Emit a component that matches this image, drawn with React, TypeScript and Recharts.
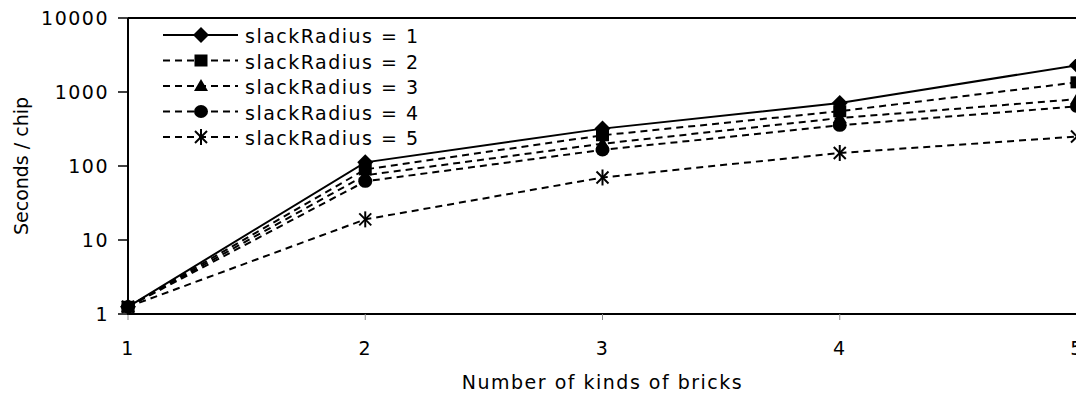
import { LineChart, Line, XAxis, YAxis, Legend, ReferenceLine, Label } from "recharts"

// kinds of bricks on the x axis
const bricks = [1, 2, 3, 4, 5]

// seconds per chip for each slack radius
const radius1 = [1.25, 112, 320, 710, 2300]
const radius2 = [1.25, 90, 260, 550, 1350]
const radius3 = [1.25, 75, 200, 445, 800]
const radius4 = [1.25, 62, 165, 355, 640]
const radius5 = [1.25, 19, 70, 150, 250]

const seriesNames = [
  "slackRadius = 1",
  "slackRadius = 2",
  "slackRadius = 3",
  "slackRadius = 4",
  "slackRadius = 5",
]
const seriesKeys = ["r1", "r2", "r3", "r4", "r5"]
const seriesShapes = ["diamond", "square", "triangle", "circle", "star"]

const xTicks = [1, 2, 3, 4, 5]
const yTicks = [1, 10, 100, 1000, 10000]

const seriesValues = [radius1, radius2, radius3, radius4, radius5]
const data = bricks.map((b, i) => {
  const row: any = { bricks: b }
  seriesKeys.forEach((k, s) => (row[k] = seriesValues[s][i]))
  return row
})

const FONT = "DejaVu Sans"
const DASH = "7 5"

function Marker({ shape, cx, cy }: any) {
  if (cx == null || cy == null) return null
  switch (shape) {
    case "diamond":
      return <polygon points={`${cx},${cy - 8} ${cx + 8},${cy} ${cx},${cy + 8} ${cx - 8},${cy}`} fill="#000" />
    case "square":
      return <rect x={cx - 6.5} y={cy - 6} width={13} height={12} fill="#000" />
    case "triangle":
      return <polygon points={`${cx},${cy - 7} ${cx + 7},${cy + 5} ${cx - 7},${cy + 5}`} fill="#000" />
    case "circle":
      return <ellipse cx={cx} cy={cy} rx={7} ry={6.5} fill="#000" />
    default:
      return (
        <g stroke="#000" strokeWidth={2}>
          <line x1={cx - 6} y1={cy - 6} x2={cx + 6} y2={cy + 6} />
          <line x1={cx - 6} y1={cy + 6} x2={cx + 6} y2={cy - 6} />
          <line x1={cx} y1={cy - 8} x2={cx} y2={cy + 8} />
        </g>
      )
  }
}

function LegendBox({ payload }: any) {
  return (
    <svg width={520} height={160} style={{ display: "block", overflow: "visible" }}>
      {(payload ?? []).map((entry: any) => {
        const i = seriesKeys.indexOf(entry.dataKey)
        const y = 35 + i * 25.5
        return (
          <g key={entry.dataKey}>
            <line x1={163} x2={238} y1={y} y2={y} stroke="#000" strokeWidth={2}
              strokeDasharray={i === 0 ? undefined : DASH} />
            <Marker shape={seriesShapes[i]} cx={201} cy={y} />
            <text x={245} y={y + 8} fontSize={19} fontFamily={FONT} fill="#000" letterSpacing={1.5}>
              {seriesNames[i]}
            </text>
          </g>
        )
      })}
    </svg>
  )
}

const yTitle = (props: any) => {
  const vb = props.viewBox
  const x = vb.x + 21
  const y = vb.y + vb.height / 2
  return (
    <text x={x} y={y} transform={`rotate(-90 ${x} ${y})`} textAnchor="middle" dominantBaseline="central"
      fontSize={19} fontFamily={FONT} fill="#000" letterSpacing={0}>
      Seconds / chip
    </text>
  )
}

export default function App() {
  const tickStyle = { fill: "#000", fontSize: 19, fontFamily: FONT, letterSpacing: 1.5 }
  return (
    <div style={{ position: "fixed", left: 0, top: 0, width: 1076, height: 394, overflow: "hidden", background: "#fff" }}>
      <LineChart width={1100} height={394} data={data}
        margin={{ top: 18, right: 23, bottom: 0, left: 0 }}
        style={{ fontFamily: FONT, letterSpacing: "1.5px" }}>
        <XAxis dataKey="bricks" type="number" domain={[1, 5]} ticks={xTicks} interval={0}
          height={80} axisLine={{ stroke: "#000", strokeWidth: 2 }}
          tickLine={{ stroke: "#888", strokeWidth: 1 }} tickSize={6} tickMargin={22} tick={tickStyle}>
          <Label value="Number of kinds of bricks" position="insideBottom" offset={5}
            style={{ fill: "#000", fontSize: 19, fontFamily: FONT, letterSpacing: 1.5 }} />
        </XAxis>
        <YAxis type="number" scale="log" domain={[1, 10000]} ticks={yTicks} interval={0}
          width={128} axisLine={{ stroke: "#000", strokeWidth: 2 }}
          tickLine={{ stroke: "#000", strokeWidth: 1.5 }} tickSize={10} tickMargin={9} tick={tickStyle}>
          <Label content={yTitle} />
        </YAxis>
        <ReferenceLine y={10000} stroke="#000" strokeWidth={2} />
        {seriesKeys.map((k, i) => (
          <Line key={k} type="linear" dataKey={k} name={seriesNames[i]} stroke="#000" strokeWidth={2}
            strokeDasharray={i === 0 ? undefined : DASH} dot={<Marker shape={seriesShapes[i]} />}
            activeDot={false} isAnimationActive={false} />
        ))}
        <Legend layout="vertical" align="center" verticalAlign="middle" content={<LegendBox />}
          wrapperStyle={{ position: "absolute", left: 0, top: 0, width: 520, height: 160 }} />
      </LineChart>
    </div>
  )
}
